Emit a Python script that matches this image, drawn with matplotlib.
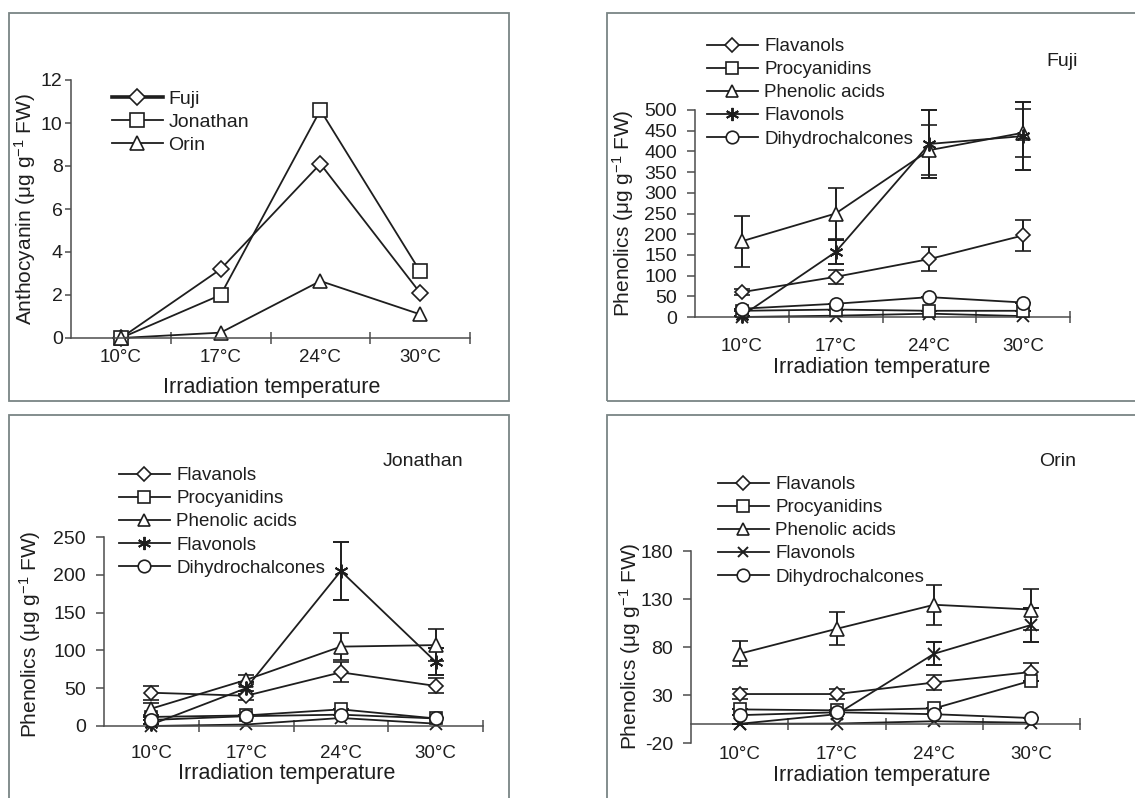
import matplotlib
matplotlib.use("Agg")
import matplotlib.pyplot as plt
from matplotlib.patches import Rectangle
from matplotlib.lines import Line2D

plt.rcParams['font.family'] = ['Liberation Sans', 'DejaVu Sans']
plt.rcParams['mathtext.fontset'] = 'custom'
plt.rcParams['mathtext.rm'] = 'Liberation Sans'
plt.rcParams['mathtext.it'] = 'Liberation Sans:italic'
plt.rcParams['axes.unicode_minus'] = False

# ---------------- data ----------------
temps = ["10°C", "17°C", "24°C", "30°C"]

antho_fuji = [0, 3.2, 8.1, 2.1]
antho_jonathan = [0, 2.0, 10.6, 3.1]
antho_orin = [0, 0.25, 2.65, 1.1]

classes = ["Flavanols", "Procyanidins", "Phenolic acids", "Flavonols", "Dihydrochalcones"]

fuji_flavanols = [60, 97, 140, 197]
fuji_flavanols_err = [8, 17, 29, 38]
fuji_procyanidins = [15, 18, 15, 15]
fuji_procyanidins_err = [0, 0, 0, 0]
fuji_phenolic = [183, 250, 403, 445]
fuji_phenolic_err = [62, 62, 60, 58]
fuji_flavonols = [3, 157, 418, 437]
fuji_flavonols_err = [0, 30, 82, 82]
fuji_dihydro = [20, 32, 48, 35]
fuji_dihydro_err = [0, 0, 0, 0]

jon_flavanols = [44, 40, 71, 53]
jon_flavanols_err = [9, 6, 13, 10]
jon_procyanidins = [12, 14, 22, 10]
jon_procyanidins_err = [0, 0, 0, 0]
jon_phenolic = [23, 61, 105, 107]
jon_phenolic_err = [8, 6, 18, 21]
jon_flavonols = [2, 50, 205, 85]
jon_flavonols_err = [0, 8, 38, 18]
jon_dihydro = [8, 13, 15, 10]
jon_dihydro_err = [0, 0, 0, 0]

orin_flavanols = [31, 31, 43, 54]
orin_flavanols_err = [5, 5, 8, 9]
orin_procyanidins = [15, 14, 16, 45]
orin_procyanidins_err = [0, 0, 0, 0]
orin_phenolic = [73, 99, 124, 119]
orin_phenolic_err = [13, 17, 21, 21]
orin_flavonols = [0, 10, 73, 103]
orin_flavonols_err = [0, 0, 12, 18]
orin_dihydro = [9, 12, 10, 6]
orin_dihydro_err = [0, 0, 0, 0]

# ---------------- style ----------------
W, H = 1135, 798
LC = '#1e1e1e'
AX = '#4d4d4d'
BORDER = '#7a8585'
TXT = '#1e1e1e'

fig = plt.figure(figsize=(W / 100, H / 100), dpi=100)


def px_axes(x1, y1, x2, y2):
    return fig.add_axes([x1 / W, 1 - y2 / H, (x2 - x1) / W, (y2 - y1) / H])


def border(x1, y1, x2, y2):
    fig.patches.append(Rectangle((x1 / W, 1 - y2 / H), (x2 - x1) / W, (y2 - y1) / H,
                                 transform=fig.transFigure, fill=False,
                                 edgecolor=BORDER, linewidth=1.3))


def ftext(x, y, s, **kw):
    fig.text(x / W, 1 - y / H, s, color=TXT, **kw)


border(9, 13, 509, 401)
border(607, 13, 1150, 401)
border(9, 415, 509, 820)
border(607, 415, 1150, 820)

ylab_a = "Anthocyanin (μg g$^{\\mathregular{-1}}$ FW)"
ylab_p = "Phenolics (μg g$^{\\mathregular{-1}}$ FW)"

mk_common = dict(markerfacecolor='white', markeredgecolor=LC, color=LC, linewidth=1.3,
                 markeredgewidth=1.2)
marker_map = {"Flavanols": ('D', 7.5), "Procyanidins": ('s', 8.5),
              "Phenolic acids": ('^', 9.5), "Flavonols": ((6, 2, 0), 10),
              "Dihydrochalcones": ('o', 9.5)}


def setup_axes(ax, ylim, yticks, tickpad_x, ylen, ypad, yfont, xfont, zero_spine=False):
    if zero_spine:
        ax.spines['bottom'].set_position(('data', 0))
    x = list(range(len(temps)))
    ax.set_xlim(-0.5, 3.5)
    ax.set_ylim(*ylim)
    ax.set_yticks(yticks)
    ax.set_xticks(x)
    ax.set_xticklabels(temps, fontsize=xfont, color=TXT)
    ax.set_xticks([0.5, 1.5, 2.5, 3.5], minor=True)
    ax.tick_params(axis='x', which='major', length=0, pad=tickpad_x)
    ax.tick_params(axis='x', which='minor', length=8, direction='inout', color=AX, width=1.1)
    ax.tick_params(axis='y', which='major', length=ylen, direction='out', color=AX, width=1.1,
                   pad=ypad, labelsize=yfont, labelcolor=TXT)
    for s in ['top', 'right']:
        ax.spines[s].set_visible(False)
    for s in ['left', 'bottom']:
        ax.spines[s].set_color(AX)
        ax.spines[s].set_linewidth(1.1)
    ax.patch.set_alpha(0)
    for sp in ax.spines.values():
        sp.set_clip_on(False)


# ---------------- panel 1: anthocyanin ----------------
ax1 = px_axes(71, 80, 470, 338)
setup_axes(ax1, (0, 12), [0, 2, 4, 6, 8, 10, 12], 8, 4, 2, 14, 13.5)
xs = list(range(4))
h1, = ax1.plot(xs, antho_fuji, marker='D', markersize=8, label='Fuji', clip_on=False, **mk_common)
h2, = ax1.plot(xs, antho_jonathan, marker='s', markersize=10, label='Jonathan', clip_on=False, **mk_common)
h3, = ax1.plot(xs, antho_orin, marker='^', markersize=10, label='Orin', clip_on=False, **mk_common)
leg = ax1.legend(handles=[h1, h2, h3], loc='upper left', bbox_to_anchor=(112 / W, 1 - 90 / H),
                 bbox_transform=fig.transFigure, frameon=False, fontsize=14,
                 handlelength=2.6, handletextpad=0.3, labelspacing=0.28, borderpad=0,
                 borderaxespad=0)
leg.get_lines()[0].set_linewidth(2.6)
for t in leg.get_texts():
    t.set_color(TXT)
ftext(25, 209, ylab_a, rotation=90, ha='center', va='center', fontsize=15)
ftext(272, 387, "Irradiation temperature", ha='center', va='center', fontsize=15.5)


def phen_panel(box, ylim, yticks, series, errs, antho, leg_xy, name, name_xy, ylab_xy, xlab_xy,
               tickpad_x, zero_spine=False, flavonol_marker=None, legend_spacing=0.3):
    ax = px_axes(*box)
    setup_axes(ax, ylim, yticks, tickpad_x, 6, 7, 14, 13.5, zero_spine=zero_spine)
    xs = list(range(4))
    handles = []
    # extra near-zero series (anthocyanin, not in legend)
    ax.plot(xs, antho, marker='x', markersize=9, color=LC, linewidth=1.3,
            markeredgewidth=1.3, clip_on=False, zorder=2)
    for cls, vals, err in zip(classes, series, errs):
        m, ms = marker_map[cls]
        if cls == "Flavonols" and flavonol_marker is not None:
            m, ms = flavonol_marker
        kw = dict(mk_common)
        if cls == "Flavonols":
            kw['markerfacecolor'] = 'none'
            kw['markeredgewidth'] = 1.4
        eb = ax.errorbar(xs, vals, yerr=err, marker=m, markersize=ms,
                         ecolor=LC, elinewidth=1.4, capsize=6, capthick=2.4, clip_on=False,
                         label=cls, zorder=3, **kw)
        for art in list(eb.lines[1]) + list(eb.lines[2]):
            art.set_clip_on(False)
        handles.append(Line2D([], [], marker=m, markersize=ms * 0.95, label=cls, **kw))
    leg = ax.legend(handles=handles, loc='upper left',
                    bbox_to_anchor=(leg_xy[0] / W, 1 - leg_xy[1] / H),
                    bbox_transform=fig.transFigure, frameon=False, fontsize=13.5,
                    handlelength=2.7, handletextpad=0.35, labelspacing=legend_spacing,
                    borderpad=0, borderaxespad=0)
    for t in leg.get_texts():
        t.set_color(TXT)
    ftext(name_xy[0], name_xy[1], name, ha='center', va='center', fontsize=14)
    ftext(ylab_xy[0], ylab_xy[1], ylab_p, rotation=90, ha='center', va='center', fontsize=15)
    ftext(xlab_xy[0], xlab_xy[1], "Irradiation temperature", ha='center', va='center', fontsize=15.5)
    return ax


# ---------------- panel 2: Fuji ----------------
phen_panel((695, 110, 1070, 317), (0, 500), list(range(0, 501, 50)),
           [fuji_flavanols, fuji_procyanidins, fuji_phenolic, fuji_flavonols, fuji_dihydro],
           [fuji_flavanols_err, fuji_procyanidins_err, fuji_phenolic_err, fuji_flavonols_err,
            fuji_dihydro_err],
           antho_fuji, (707, 38), "Fuji", (1062, 61), (623, 213), (882, 367), 15,
           legend_spacing=0.32)

# ---------------- panel 3: Jonathan ----------------
phen_panel((104, 537, 483, 726), (0, 250), list(range(0, 251, 50)),
           [jon_flavanols, jon_procyanidins, jon_phenolic, jon_flavonols, jon_dihydro],
           [jon_flavanols_err, jon_procyanidins_err, jon_phenolic_err, jon_flavonols_err,
            jon_dihydro_err],
           antho_jonathan, (119, 467), "Jonathan", (423, 462), (30, 634), (287, 773), 14,
           legend_spacing=0.32)

# ---------------- panel 4: Orin ----------------
phen_panel((691, 551, 1080, 743), (-20, 180), list(range(-20, 181, 50)),
           [orin_flavanols, orin_procyanidins, orin_phenolic, orin_flavonols, orin_dihydro],
           [orin_flavanols_err, orin_procyanidins_err, orin_phenolic_err, orin_flavonols_err,
            orin_dihydro_err],
           antho_orin, (718, 476), "Orin", (1058, 462), (630, 646), (882, 775), 16,
           zero_spine=True, flavonol_marker=('x', 8), legend_spacing=0.32)

fig.savefig("out.png", dpi=100)
